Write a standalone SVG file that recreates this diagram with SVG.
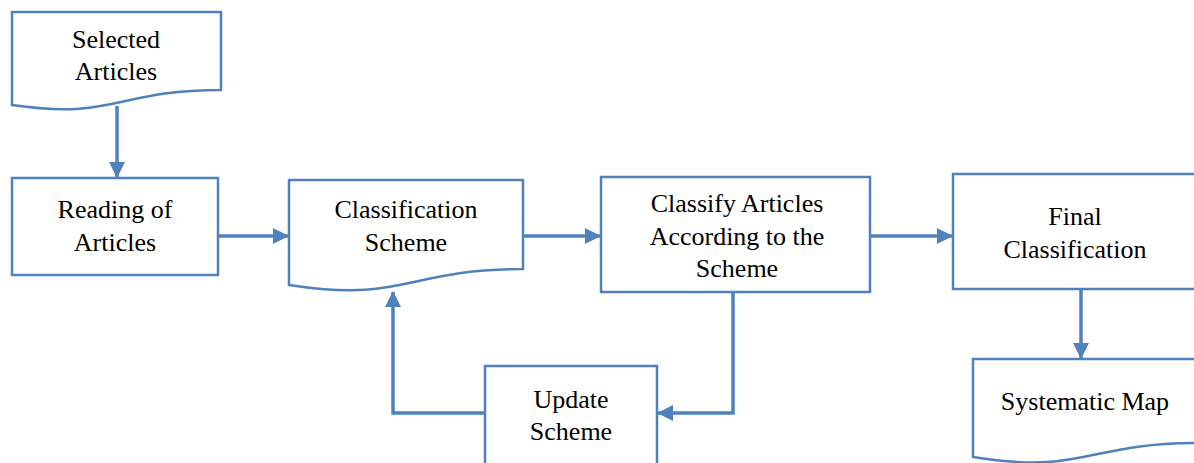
<svg xmlns="http://www.w3.org/2000/svg" width="1194" height="463" viewBox="0 0 1194 463">
<defs>
<style>
.shape{fill:#ffffff;stroke:#4f81bd;stroke-width:2.5}
.conn{fill:none;stroke:#4f81bd;stroke-width:3.5}
.t{font-family:'Liberation Serif','Times New Roman',serif;font-size:26px;fill:#000000;text-anchor:middle}
</style>
<marker id="ah" markerUnits="userSpaceOnUse" markerWidth="16" markerHeight="16" viewBox="0 0 16 16" refX="15" refY="8" orient="auto">
<path d="M0,0 L16,8 L0,16 Z" fill="#4f81bd"/>
</marker>
</defs>
<rect width="1194" height="463" fill="#ffffff"/>
<g id="connectors">
<path class="conn" d="M117,106 L117,177" marker-end="url(#ah)"/>
<path class="conn" d="M218,236 L288,236" marker-end="url(#ah)"/>
<path class="conn" d="M523,236 L600,236" marker-end="url(#ah)"/>
<path class="conn" d="M870,236 L952,236" marker-end="url(#ah)"/>
<path class="conn" d="M1081,289 L1081,358" marker-end="url(#ah)"/>
<path class="conn" d="M733,292 L733,413 L658,413" marker-end="url(#ah)"/>
<path class="conn" d="M485,413 L393,413 L393,292" marker-end="url(#ah)"/>
</g>
<g id="selected-articles">
<path class="shape" d="M12,12 H221 V90 C116,90 116,120 12,105 Z"/>
<text class="t" font-family="Liberation Serif" x="116" y="48">Selected</text>
<text class="t" font-family="Liberation Serif" x="116" y="80">Articles</text>
</g>
<g id="reading-of-articles">
<rect class="shape" x="12" y="178" width="206" height="97"/>
<text class="t" font-family="Liberation Serif" x="115" y="218">Reading of</text>
<text class="t" font-family="Liberation Serif" x="115" y="251">Articles</text>
</g>
<g id="classification-scheme">
<path class="shape" d="M289,180 H523 V269 C406,269 406,303 289,285 Z"/>
<text class="t" font-family="Liberation Serif" x="406" y="218">Classification</text>
<text class="t" font-family="Liberation Serif" x="406" y="251">Scheme</text>
</g>
<g id="classify-articles">
<rect class="shape" x="601" y="177" width="269" height="115"/>
<text class="t" font-family="Liberation Serif" x="737" y="212">Classify Articles</text>
<text class="t" font-family="Liberation Serif" x="737" y="245">According to the</text>
<text class="t" font-family="Liberation Serif" x="737" y="277">Scheme</text>
</g>
<g id="final-classification">
<rect class="shape" x="953" y="174" width="246" height="115"/>
<text class="t" font-family="Liberation Serif" x="1075" y="225">Final</text>
<text class="t" font-family="Liberation Serif" x="1075" y="258">Classification</text>
</g>
<g id="systematic-map">
<path class="shape" d="M973,359 H1198 V443 C1085,443 1085,475 973,457 Z"/>
<text class="t" font-family="Liberation Serif" x="1085" y="410">Systematic Map</text>
</g>
<g id="update-scheme">
<rect class="shape" x="485" y="366" width="172" height="110"/>
<text class="t" font-family="Liberation Serif" x="571" y="408">Update</text>
<text class="t" font-family="Liberation Serif" x="571" y="440">Scheme</text>
</g>
</svg>
